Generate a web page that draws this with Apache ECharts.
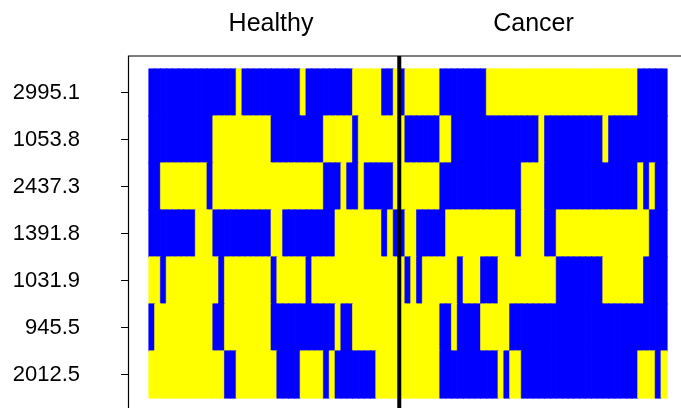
<!DOCTYPE html>
<html>
<head>
<meta charset="utf-8">
<script src="https://cdn.jsdelivr.net/npm/echarts@6/dist/echarts.min.js"></script>
<style>
html,body{margin:0;padding:0;background:#ffffff;}
#c{width:681px;height:408px;}
</style>
</head>
<body>
<div id="c"></div>
<script>
// Row labels (top to bottom)
const features = ['2995.1', '1053.8', '2437.3', '1391.8', '1031.9', '945.5', '2012.5'];
// Sample groups and sizes (columns left to right)
const groups = ['Healthy', 'Cancer'];
const groupSizes = [43, 46];
// Cell values per row: 0 = blue, 1 = yellow
const row2995_1 = [0,0,0,0,0,0,0,0,0,0,0,0,0,0,0,1,0,0,0,0,0,0,0,0,0,0,1,0,0,0,0,0,0,0,0,1,1,1,1,1,0,0,1,0,1,1,1,1,1,1,0,0,0,0,0,0,0,0,1,1,1,1,1,1,1,1,1,1,1,1,1,1,1,1,1,1,1,1,1,1,1,1,1,1,0,0,0,0,0];
const row1053_8 = [0,0,0,0,0,0,0,0,0,0,0,1,1,1,1,1,1,1,1,1,1,0,0,0,0,0,0,0,0,0,1,1,1,1,1,0,1,1,1,1,1,1,1,1,0,0,0,0,0,0,1,1,0,0,0,0,0,0,0,0,0,0,0,0,0,0,0,1,0,0,0,0,0,0,0,0,0,0,1,0,0,0,0,0,0,0,0,0,0];
const row2437_3 = [0,0,1,1,1,1,1,1,1,1,0,1,1,1,1,1,1,1,1,1,1,1,1,1,1,1,1,1,1,1,0,0,0,1,0,0,1,0,0,0,0,0,1,1,1,1,1,1,1,1,0,0,0,0,0,0,0,0,0,0,0,0,0,0,1,1,1,1,0,0,0,0,0,0,0,0,0,0,0,0,0,0,0,0,1,0,1,0,0];
const row1391_8 = [0,0,0,0,0,0,0,0,1,1,1,0,0,0,0,0,0,0,0,0,0,1,1,0,0,0,0,0,0,0,0,0,1,1,1,1,1,1,1,1,0,1,0,0,1,1,0,0,0,0,0,1,1,1,1,1,1,1,1,1,1,1,1,0,1,1,1,1,0,0,1,1,1,1,1,1,1,1,1,1,1,1,1,1,1,1,0,0,0];
const row1031_9 = [1,1,0,1,1,1,1,1,1,1,1,1,0,1,1,1,1,1,1,1,1,0,1,1,1,1,1,0,1,1,1,1,1,1,1,1,1,1,1,1,1,1,1,1,0,1,0,1,1,1,1,1,1,0,1,1,1,0,0,0,1,1,1,1,1,1,1,1,1,1,0,0,0,0,0,0,0,0,1,1,1,1,1,1,1,0,0,0,0];
const row945_5  = [0,1,1,1,1,1,1,1,1,1,1,0,0,1,1,1,1,1,1,1,1,0,0,0,0,0,0,0,0,0,0,0,1,0,0,1,1,1,1,1,1,1,1,1,1,1,1,1,1,1,0,0,1,0,0,0,0,1,1,1,1,1,0,0,0,0,0,0,0,0,0,0,0,0,0,0,0,0,0,0,0,0,0,0,0,0,0,0,0];
const row2012_5 = [1,1,1,1,1,1,1,1,1,1,1,1,1,0,0,1,1,1,1,1,1,1,0,0,0,0,1,1,1,1,0,1,0,0,0,0,0,0,0,1,1,1,1,1,1,1,1,1,1,1,0,0,0,0,0,0,0,0,0,0,1,0,1,1,0,0,0,0,0,0,0,0,0,0,0,0,0,0,0,0,0,0,0,0,1,1,1,0,1];
const rows = [row2995_1, row1053_8, row2437_3, row1391_8, row1031_9, row945_5, row2012_5];
const colours = ['#0000ff', '#ffff00'];

// Build sample category names from the group sizes
const samples = [];
groups.forEach((g, gi) => { for (let i = 1; i <= groupSizes[gi]; i++) samples.push(g + ' ' + i); });

const data = [];
rows.forEach((r, yi) => r.forEach((v, xi) => {
  const c = colours[v];
  data.push({ value: [xi, yi, v], itemStyle: { color: c, borderColor: c, borderWidth: 0.6 } });
}));

const FONT = '"Liberation Sans", Arial, Helvetica, sans-serif';
const chart = echarts.init(document.getElementById('c'), null, { renderer: 'canvas' });
chart.setOption({
  animation: false,
  backgroundColor: '#ffffff',
  grid: { left: 149, top: 69, width: 518, height: 329, show: false },
  xAxis: { type: 'category', data: samples, show: false },
  yAxis: {
    type: 'category', data: features, inverse: true, offset: 21,
    axisLine: { show: false },
    axisTick: { show: true, alignWithLabel: true, length: 7, lineStyle: { color: '#000', width: 1 } },
    axisLabel: { margin: 48, color: '#000', fontSize: 22, fontFamily: FONT },
    splitLine: { show: false }
  },
  series: [{ type: 'heatmap', data: data, emphasis: { disabled: true }, progressive: 0 }]
});

// Group separator, placed through the x axis scale
const splitIdx = groupSizes[0];
const xa = chart.convertToPixel({ xAxisIndex: 0 }, samples[splitIdx - 1]);
const xb = chart.convertToPixel({ xAxisIndex: 0 }, samples[splitIdx]);
const xSep = (xa + xb) / 2;

chart.setOption({
  graphic: [
    { type: 'rect', z: 100, shape: { x: 128.5, y: 56, width: 700, height: 500 },
      style: { fill: null, stroke: '#000', lineWidth: 1.2 }, silent: true },
    { type: 'line', z: 101, shape: { x1: xSep, y1: 56, x2: xSep, y2: 430 },
      style: { stroke: '#000', lineWidth: 4 }, silent: true },
    { type: 'text', z: 102, style: { text: groups[0], x: 271, y: 24, align: 'center', verticalAlign: 'middle', textAlign: 'center', textVerticalAlign: 'middle', font: '25px ' + FONT, fill: '#000' } },
    { type: 'text', z: 102, style: { text: groups[1], x: 533.5, y: 24, align: 'center', verticalAlign: 'middle', textAlign: 'center', textVerticalAlign: 'middle', font: '25px ' + FONT, fill: '#000' } }
  ]
});
</script>
</body>
</html>
